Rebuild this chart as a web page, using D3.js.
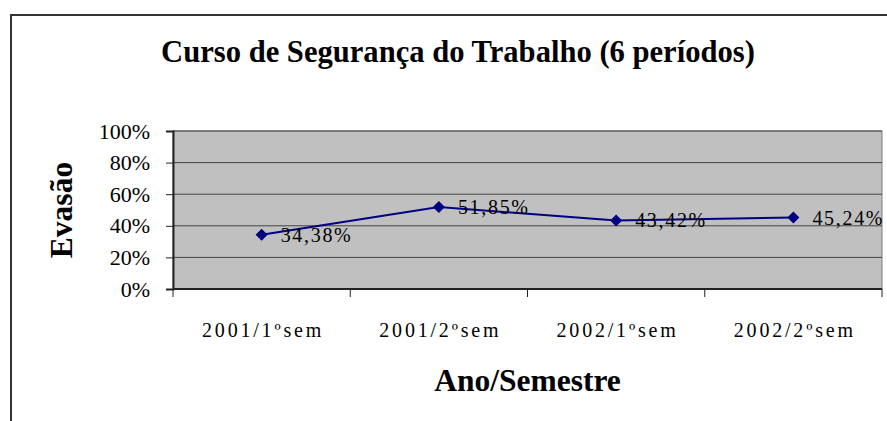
<!DOCTYPE html>
<html>
<head>
<meta charset="utf-8">
<script src="https://cdn.jsdelivr.net/npm/d3@7"></script>
<style>
  body { margin: 0; background: #fff; }
</style>
</head>
<body>
<div id="chart"></div>
<script>
// data
var semesters = ["2001/1ºsem", "2001/2ºsem", "2002/1ºsem", "2002/2ºsem"];
var evasao = [34.38, 51.85, 43.42, 45.24];
var yTicks = [0, 20, 40, 60, 80, 100];

var W = 887, H = 421;
var serif = "'Liberation Serif', 'Times New Roman', serif";
var plot = { left: 173, right: 882, top: 131, bottom: 289 };

var svg = d3.select("#chart").append("svg")
  .attr("width", W)
  .attr("height", H);

// outer chart frame (cut off on right/bottom)
svg.append("path")
  .attr("d", "M11," + H + " V15 H" + W)
  .attr("fill", "none")
  .attr("stroke", "#333")
  .attr("stroke-width", 2);

var x = d3.scaleBand().domain(semesters).range([plot.left, plot.right]);
var y = d3.scaleLinear().domain([0, 100]).range([plot.bottom, plot.top]);

// plot background
svg.append("rect")
  .attr("x", plot.left).attr("y", plot.top)
  .attr("width", plot.right - plot.left).attr("height", plot.bottom - plot.top)
  .attr("fill", "#c0c0c0")
  .attr("stroke", "#808080")
  .attr("stroke-width", 1);

// gridlines
svg.append("g").selectAll("line")
  .data(yTicks.slice(1))
  .join("line")
  .attr("x1", plot.left).attr("x2", plot.right)
  .attr("y1", d => y(d)).attr("y2", d => y(d))
  .attr("stroke", "#444")
  .attr("stroke-width", 1);

// y axis
var yAxis = svg.append("g")
  .attr("transform", "translate(" + plot.left + ",0)")
  .call(d3.axisLeft(y).tickValues(yTicks).tickFormat(d => d + "%").tickSize(7).tickPadding(16));
yAxis.select(".domain").attr("stroke", "#222").attr("stroke-width", 2);
yAxis.selectAll(".tick line").attr("stroke", "#222");
yAxis.selectAll("text")
  .style("font-family", serif)
  .style("font-size", "22px")
  .attr("fill", "#000");

// x axis with ticks at band edges
var xAxis = svg.append("g")
  .attr("transform", "translate(0," + plot.bottom + ")");
xAxis.append("line")
  .attr("x1", plot.left).attr("x2", plot.right)
  .attr("stroke", "#222").attr("stroke-width", 2);
var edges = semesters.map(d => x(d)).concat([plot.right]);
xAxis.selectAll(".edge")
  .data(edges)
  .join("line")
  .attr("class", "edge")
  .attr("x1", d => d).attr("x2", d => d)
  .attr("y1", 0).attr("y2", 8)
  .attr("stroke", "#222");
xAxis.selectAll(".lbl")
  .data(semesters)
  .join("text")
  .attr("class", "lbl")
  .attr("x", d => x(d) + x.bandwidth() / 2 + 1.4)
  .attr("y", 48)
  .attr("text-anchor", "middle")
  .style("font-family", serif)
  .style("font-size", "20px")
  .style("letter-spacing", "2.8px")
  .text(d => d);

// line + markers
var pts = semesters.map((s, i) => ({ s: s, v: evasao[i] }));
var cx = d => x(d.s) + x.bandwidth() / 2;

svg.append("path")
  .datum(pts)
  .attr("fill", "none")
  .attr("stroke", "#000080")
  .attr("stroke-width", 2)
  .attr("d", d3.line().x(cx).y(d => y(d.v)));

svg.append("g").selectAll("path")
  .data(pts)
  .join("path")
  .attr("transform", d => "translate(" + cx(d) + "," + y(d.v) + ") rotate(45)")
  .attr("d", d3.symbol(d3.symbolSquare, 72))
  .attr("fill", "#000080");

// data labels
svg.append("g").selectAll("text")
  .data(pts)
  .join("text")
  .attr("x", d => cx(d) + 19)
  .attr("y", d => y(d.v))
  .attr("dy", "0.35em")
  .style("font-family", serif)
  .style("font-size", "20px")
  .style("letter-spacing", "1.7px")
  .text(d => d.v.toFixed(2).replace(".", ",") + "%");

// titles
svg.append("text")
  .attr("x", 458).attr("y", 62)
  .attr("text-anchor", "middle")
  .style("font-family", serif)
  .style("font-size", "30.6px")
  .style("font-weight", "bold")
  .text("Curso de Segurança do Trabalho (6 períodos)");

svg.append("text")
  .attr("x", (plot.left + plot.right) / 2).attr("y", 391)
  .attr("text-anchor", "middle")
  .style("font-family", serif)
  .style("font-size", "31.5px")
  .style("font-weight", "bold")
  .text("Ano/Semestre");

svg.append("text")
  .attr("transform", "translate(72," + (plot.top + plot.bottom) / 2 + ") rotate(-90)")
  .attr("text-anchor", "middle")
  .style("font-family", serif)
  .style("font-size", "31.5px")
  .style("font-weight", "bold")
  .text("Evasão");
</script>
</body>
</html>
